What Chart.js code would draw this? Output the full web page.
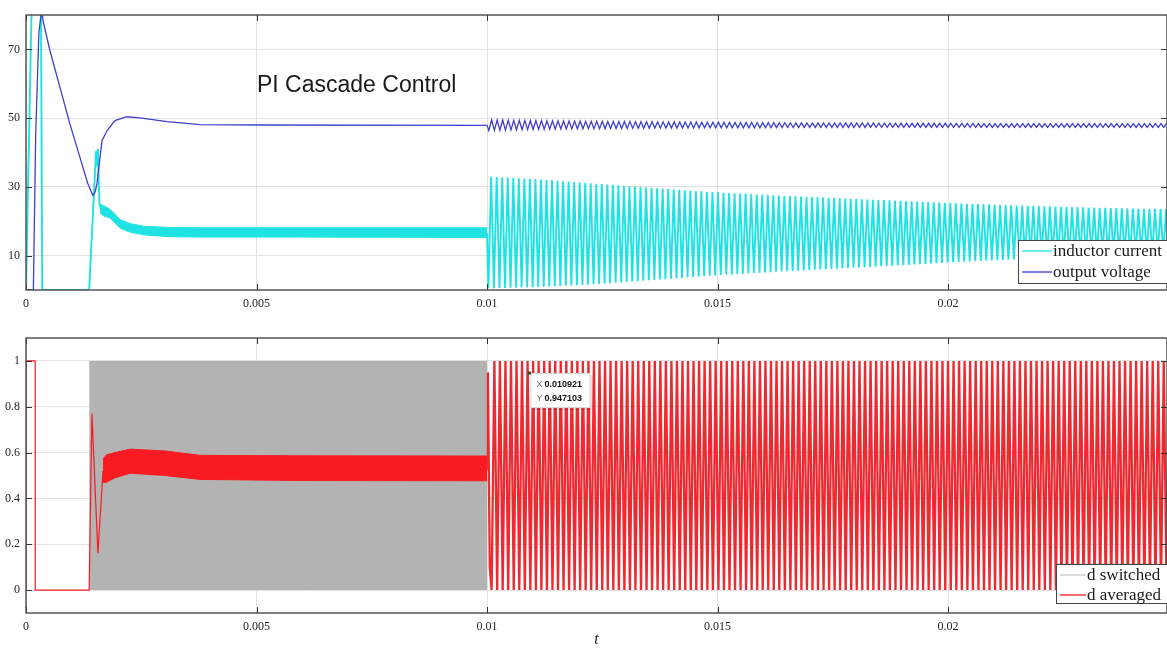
<!DOCTYPE html>
<html><head><meta charset="utf-8">
<script src="https://cdn.jsdelivr.net/npm/chart.js@4/dist/chart.umd.min.js"></script>
<style>
html,body{margin:0;padding:0;background:#fff;overflow:hidden;width:1167px;height:648px;}
canvas{position:absolute;left:0;}
#c1{top:0}
#c2{top:320px}
</style></head><body>
<canvas id="c1" width="1167" height="320"></canvas>
<canvas id="c2" width="1167" height="328"></canvas>
<script>
// ---- axis ticks ----
const X_MAX = 0.02475;
const xTickValues = [0, 0.005, 0.01, 0.015, 0.02];
const xTickLabels = ['0', '0.005', '0.01', '0.015', '0.02'];
const topYTicks = [10, 30, 50, 70];
const topYLabels = ['10', '30', '50', '70'];
const botYTicks = [0, 0.2, 0.4, 0.6, 0.8, 1];
const botYLabels = ['0', '0.2', '0.4', '0.6', '0.8', '1'];

// ---- output voltage start-up transient ----
const vT = [0, 0.00016, 0.00021, 0.00028, 0.00033, 0.000347, 0.00037, 0.00052, 0.00074, 0.00095, 0.00117, 0.00134, 0.00145, 0.0015, 0.00154, 0.0016, 0.00165, 0.00176, 0.00193, 0.00219, 0.00247, 0.00306, 0.00377, 0.0051, 0.01];
const vV = [0, 0, 45, 75, 80.5, 81, 78.3, 69.6, 58.8, 48.4, 38.6, 31, 27.5, 28.5, 31, 38, 43.5, 46.4, 49.3, 50.4, 50.1, 49, 48.1, 48, 47.9];

// ---- inductor current start-up transient ----
const iT = [0, 0.00012, 0.000325, 0.000353, 0.00137, 0.00152, 0.00154, 0.00156, 0.00158, 0.0016];
const iV = [0, 81, 81, 0, 0, 40.5, 36, 41, 30, 24];
// inductor current ripple band (switching ripple, upper / lower edge)
const iBandT  = [0.0016, 0.00169, 0.00182, 0.00204, 0.00226, 0.00258, 0.00312, 0.00377, 0.00594, 0.01];
const iBandHi = [25, 24.5, 23.5, 20.5, 19.3, 18.5, 18.2, 18.1, 18.1, 18.1];
const iBandLo = [22.5, 21.5, 21, 18, 16.8, 16, 15.5, 15.4, 15.4, 15.3];

// ---- oscillation after t = 0.01 (envelopes) ----
const oscT    = [0.010, 0.011, 0.012, 0.013, 0.014, 0.015, 0.016, 0.017, 0.018, 0.019, 0.020, 0.021, 0.022, 0.023, 0.024, 0.025];
const iPeak   = [33, 32.3, 31.3, 30.3, 29.3, 28.4, 27.7, 27.1, 26.5, 25.9, 25.3, 24.8, 24.4, 24.0, 23.7, 23.5];
const iTrough = [0.5, 0.8, 1.4, 2.3, 3.3, 4.3, 5.1, 5.8, 6.5, 7.2, 8.0, 8.6, 9.2, 9.6, 10.0, 10.3];
const vPeak   = [49.5, 49.3, 49.1, 49.0, 48.9, 48.8, 48.7, 48.6, 48.6, 48.5, 48.5, 48.4, 48.4, 48.4, 48.4, 48.4];
const vTrough = [46.4, 46.7, 46.9, 47.0, 47.1, 47.2, 47.2, 47.3, 47.3, 47.3, 47.3, 47.3, 47.3, 47.3, 47.3, 47.3];
const dPeak   = [1, 1, 1, 1, 1, 1, 1, 1, 1, 1, 1, 1, 1, 1, 1, 1];
const dTrough = [0, 0, 0, 0, 0, 0, 0, 0, 0, 0, 0, 0, 0, 0, 0, 0];
const oscPeriod = 0.00012;

// ---- duty cycle ----
const dT = [0, 0, 0.0002, 0.0002, 0.00137, 0.00143, 0.00156, 0.00167];
const dV = [0, 1, 1, 0, 0, 0.77, 0.16, 0.52];
const dAfterT = [0.01, 0.01002, 0.01006];
const dAfterV = [0.53, 0.95, 0.1];
const dBandT  = [0.00167, 0.00174, 0.00193, 0.00226, 0.00302, 0.00377, 0.00594, 0.01];
const dBandHi = [0.57, 0.59, 0.60, 0.615, 0.607, 0.588, 0.586, 0.585];
const dBandLo = [0.47, 0.47, 0.49, 0.51, 0.50, 0.483, 0.478, 0.477];
const dSwT  = [0.00137, 0.01];
const dSwHi = [1, 1];
const dSwLo = [0, 0];
const tip = { x: 0.010921, y: 0.947103 };

// ---- helpers ----
const pts = (xs, ys) => xs.map((x, k) => ({ x, y: ys[k] }));
function env(arr, t) {
  for (let k = 0; k < oscT.length - 1; k++) {
    if (t <= oscT[k + 1]) {
      const f = (t - oscT[k]) / (oscT[k + 1] - oscT[k]);
      return arr[k] + (arr[k + 1] - arr[k]) * f;
    }
  }
  return arr[arr.length - 1];
}
function oscillation(t0, hi, lo, riseFrac) {
  const out = [];
  let t = t0;
  while (t < X_MAX + oscPeriod) {
    out.push({ x: t, y: env(lo, t) });
    const tp = t + riseFrac * oscPeriod;
    out.push({ x: tp, y: env(hi, tp) });
    t += oscPeriod;
  }
  return out;
}
const GAP = t => ({ x: t, y: null });

const cyan = '#1fe3e3';
const blue = '#3f3fcc';
const red = '#f81c22';
const grey = '#b3b3b3';
const serif = '"Liberation Serif", "Times New Roman", serif';

const iLine = pts(iT, iV).concat([GAP(0.005), { x: 0.01, y: 16.5 }], oscillation(0.01003, iPeak, iTrough, 0.5));
const vLine = pts(vT, vV).concat(oscillation(0.01004, vPeak, vTrough, 0.5));
const dEarly = pts(dT, dV);
const dLate = pts(dAfterT, dAfterV).concat(oscillation(0.0101, dPeak, dTrough, 0.5));

function frameTicks(xVals, yVals) {
  return {
    id: 'frameTicks',
    afterDatasetsDraw(chart) {
      const { ctx, chartArea: a, scales } = chart;
      ctx.save();
      ctx.strokeStyle = '#333';
      ctx.lineWidth = 1;
      ctx.beginPath();
      yVals.forEach(v => {
        const y = Math.round(scales.y.getPixelForValue(v)) + 0.5;
        ctx.moveTo(a.left, y); ctx.lineTo(a.left + 6, y);
        ctx.moveTo(a.right, y); ctx.lineTo(a.right - 6, y);
      });
      xVals.forEach(v => {
        const x = Math.round(scales.x.getPixelForValue(v)) + 0.5;
        ctx.moveTo(x, a.bottom); ctx.lineTo(x, a.bottom - 6);
        ctx.moveTo(x, a.top); ctx.lineTo(x, a.top + 6);
      });
      ctx.stroke();
      ctx.strokeStyle = '#4a4a4a';
      ctx.lineWidth = 1.4;
      ctx.strokeRect(a.left, a.top, a.right - a.left, a.bottom - a.top);
      ctx.restore();
    }
  };
}
function legendBox(items, dx, dyTop, h, lineLen, rows) {
  return {
    id: 'legendBox',
    afterDraw(chart) {
      const { ctx, chartArea: a } = chart;
      const x = a.right - dx, y = a.bottom - dyTop;
      ctx.save();
      ctx.fillStyle = '#fff';
      ctx.fillRect(x, y, dx + 10, h);
      ctx.strokeStyle = '#444';
      ctx.lineWidth = 1;
      ctx.strokeRect(x + 0.5, y + 0.5, dx + 10, h);
      ctx.font = '17px ' + serif;
      ctx.textBaseline = 'middle';
      ctx.textAlign = 'left';
      items.forEach((it, k) => {
        const ry = y + rows[k];
        ctx.strokeStyle = it.color; ctx.lineWidth = 1.3;
        ctx.beginPath(); ctx.moveTo(x + 4, ry); ctx.lineTo(x + 4 + lineLen, ry); ctx.stroke();
        ctx.fillStyle = '#1a1a1a';
        ctx.fillText(it.label, x + 5 + lineLen, ry + 1);
      });
      ctx.restore();
    }
  };
}
function baseScales(yMin, yMax, yTicks, yLabels, xHeight, withTitle) {
  return {
    x: {
      type: 'linear', min: 0, max: X_MAX,
      afterBuildTicks: s => { s.ticks = xTickValues.map(v => ({ value: v })); },
      afterFit: s => { s.height = xHeight; },
      ticks: { callback: v => xTickLabels[xTickValues.indexOf(v)], font: { family: serif, size: 12 }, color: '#262626', padding: 7, maxRotation: 0, autoSkip: false },
      grid: { color: '#e2e2e2', drawTicks: false, lineWidth: 1 },
      border: { display: false },
      title: withTitle ? { display: true, text: 't', font: { family: serif, size: 16, style: 'italic', lineHeight: 1 }, color: '#262626', padding: { top: 0, bottom: 0 } } : { display: false }
    },
    y: {
      type: 'linear', min: yMin, max: yMax,
      afterBuildTicks: s => { s.ticks = yTicks.map(v => ({ value: v })); },
      afterFit: s => { s.width = 26; },
      ticks: { callback: v => yLabels[yTicks.indexOf(v)], font: { family: serif, size: 12 }, color: '#262626', padding: 6, autoSkip: false },
      grid: { color: '#e2e2e2', drawTicks: false, lineWidth: 1 },
      border: { display: false }
    }
  };
}
const common = {
  responsive: false, animation: false, devicePixelRatio: 1,
  parsing: false, normalized: true,
  elements: { point: { radius: 0, hoverRadius: 0 }, line: { tension: 0 } },
  plugins: { legend: { display: false }, tooltip: { enabled: false } },
  events: []
};

// ---- top chart ----
new Chart(document.getElementById('c1'), {
  type: 'line',
  data: { datasets: [
    { label: 'band hi', data: pts(iBandT, iBandHi), borderColor: cyan, borderWidth: 1, fill: false, order: 3 },
    { label: 'band lo', data: pts(iBandT, iBandLo), borderColor: cyan, borderWidth: 1, backgroundColor: cyan, fill: '-1', order: 3 },
    { label: 'inductor current', data: iLine, borderColor: cyan, borderWidth: 1.9, fill: false, spanGaps: false, order: 2 },
    { label: 'output voltage', data: vLine, borderColor: blue, borderWidth: 1.3, fill: false, order: 1 }
  ] },
  options: Object.assign({}, common, {
    layout: { padding: { top: 15, left: 0, right: 0, bottom: 0 } },
    scales: baseScales(0, 80, topYTicks, topYLabels, 30, false)
  }),
  plugins: [
    frameTicks(xTickValues, topYTicks),
    legendBox([{ label: 'inductor current', color: cyan }, { label: 'output voltage', color: blue }], 149, 50, 43, 30, [11, 32]),
    { id: 'plotTitle', afterDraw(chart) {
        const { ctx, chartArea: a } = chart;
        ctx.save();
        ctx.font = '23px "Liberation Sans", Arial, sans-serif';
        ctx.fillStyle = '#1a1a1a';
        ctx.textBaseline = 'middle';
        ctx.fillText('PI Cascade Control', a.left + 231, 86);
        ctx.restore();
    } }
  ]
});

// ---- bottom chart ----
new Chart(document.getElementById('c2'), {
  type: 'line',
  data: { datasets: [
    { label: 'sw hi', data: pts(dSwT, dSwHi), borderColor: grey, borderWidth: 0, fill: false, order: 5 },
    { label: 'sw lo', data: pts(dSwT, dSwLo), borderColor: grey, borderWidth: 0, backgroundColor: grey, fill: '-1', order: 5 },
    { label: 'avg hi', data: pts(dBandT, dBandHi), borderColor: red, borderWidth: 1, fill: false, order: 3 },
    { label: 'avg lo', data: pts(dBandT, dBandLo), borderColor: red, borderWidth: 1, backgroundColor: red, fill: '-1', order: 3 },
    { label: 'd averaged', data: dEarly, borderColor: red, borderWidth: 1.2, fill: false, order: 1 },
    { label: 'd averaged (osc)', data: dLate, borderColor: '#ee2a30', borderWidth: 2.3, fill: false, order: 1 }
  ] },
  options: Object.assign({}, common, {
    layout: { padding: { top: 18, left: 0, right: 0, bottom: 0 } },
    scales: baseScales(-0.1, 1.1, botYTicks, botYLabels, 35, true)
  }),
  plugins: [
    frameTicks(xTickValues, botYTicks),
    legendBox([{ label: 'd switched', color: '#c2cbc2' }, { label: 'd averaged', color: red }], 111, 49, 39, 26, [11, 31]),
    { id: 'dataTip', afterDraw(chart) {
        const { ctx, scales } = chart;
        const px = scales.x.getPixelForValue(tip.x), py = scales.y.getPixelForValue(tip.y);
        ctx.save();
        ctx.fillStyle = 'rgba(0,0,0,0.12)';
        ctx.fillRect(px + 3, py + 2, 60, 35);
        ctx.fillStyle = '#fff';
        ctx.fillRect(px + 1, py, 60, 35);
        ctx.strokeStyle = '#d6d6d6';
        ctx.strokeRect(px + 1.5, py + 0.5, 59, 34);
        ctx.fillStyle = '#2a4a2a';
        ctx.fillRect(px - 1.5, py - 1.5, 3, 3);
        ctx.textBaseline = 'middle';
        ctx.font = '9px "Liberation Sans", Arial, sans-serif';
        ctx.fillStyle = '#777';
        ctx.fillText('X', px + 7, py + 11);
        ctx.fillText('Y', px + 7, py + 25);
        ctx.font = 'bold 9px "Liberation Sans", Arial, sans-serif';
        ctx.fillStyle = '#111';
        ctx.fillText(tip.x.toFixed(6), px + 15, py + 11);
        ctx.fillText(tip.y.toFixed(6), px + 15, py + 25);
        ctx.restore();
    } }
  ]
});
</script>
</body></html>
